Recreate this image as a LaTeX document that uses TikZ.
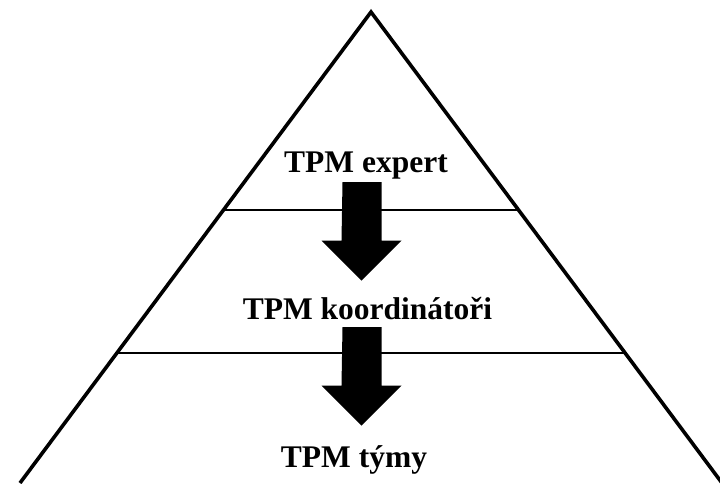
\documentclass[tikz,border=0pt]{standalone}
\usepackage{fontspec}
\setmainfont{Liberation Serif}
\usetikzlibrary{calc}
\tikzset{
  edge/.style={line width=3.6pt, line join=miter},
  level/.style={line width=1.8pt},
  label/.style={anchor=base, inner sep=0pt, font=\fontsize{31.5}{36}\selectfont\bfseries},
  bigarrow/.style={fill=black}
}
\begin{document}
\begin{tikzpicture}[x=1pt, y=-1pt]
\useasboundingbox (0,0) rectangle (720,483);
\fill[white] (0,0) rectangle (720,483);
\coordinate (apex) at (371,12);
\coordinate (bl) at (20,483);
\coordinate (br) at (722,483);
\begin{scope}
\clip (0,0) rectangle (720,483);
\draw[edge] (bl) -- (apex) -- (br);
\end{scope}
\coordinate (l1) at ($(apex)!0.4204!(bl)$);
\coordinate (r1) at ($(apex)!0.4204!(br)$);
\coordinate (l2) at ($(apex)!0.724!(bl)$);
\coordinate (r2) at ($(apex)!0.724!(br)$);
\draw[level] (l1) -- (r1);
\draw[level] (l2) -- (r2);
\node[label] (expert) at (366,172) {TPM expert};
\node[label] (koord) at (367.5,319) {TPM koordinátoři};
\node[label] (tymy) at (354,467) {TPM týmy};
\coordinate (a1) at (362,182);
\coordinate (a2) at (362,327);
\foreach \c in {a1,a2}{
  \fill[bigarrow] (\c) ++(-19.5,0) -- ++(39,0) -- ++(0,58.5) -- ++(20,0)
     -- ++(-40,40) -- ++(-40,-40) -- ++(20,0) -- cycle;
}
\end{tikzpicture}
\end{document}
